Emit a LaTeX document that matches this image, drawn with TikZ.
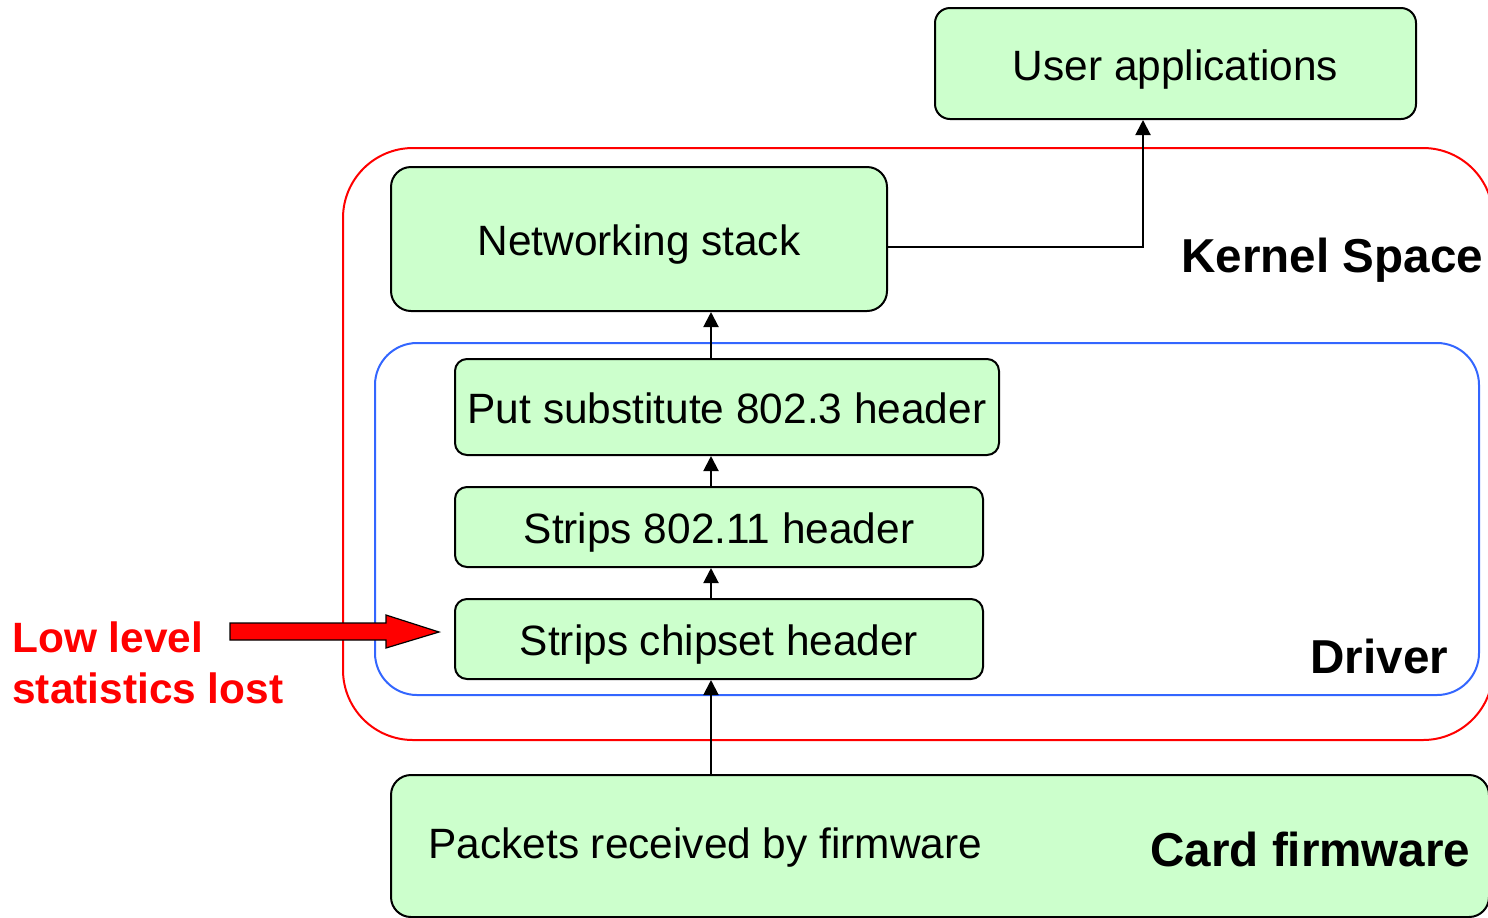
\documentclass[tikz,border=0pt]{standalone}
\usepackage{fontspec}
\setmainfont{Liberation Sans}
\usetikzlibrary{arrows.meta}
\definecolor{boxgreen}{HTML}{CCFFCC}
\definecolor{driverblue}{HTML}{3366FF}
\begin{document}
\begin{tikzpicture}[x=0.5pt,y=-0.5pt,
  box/.style={draw=black, line width=1pt, fill=boxgreen, rounded corners=6pt,
    inner sep=0pt, text height=16.5pt, text depth=0pt,
    font=\fontsize{21.2}{25}\selectfont},
  flow/.style={draw=black, line width=1pt, -{Triangle[length=7.5pt,width=7.5pt]}},
  zone/.style={line width=1pt},
  title/.style={font=\fontsize{23.8}{28}\selectfont\bfseries, inner sep=0pt},
  plain/.style={font=\fontsize{21.2}{25}\selectfont, inner sep=0pt},
  warn/.style={font=\fontsize{21.2}{25}\selectfont\bfseries, text=red, inner sep=0pt}
]
\path[use as bounding box] (0,0) rectangle (1488,917);
\clip (0,0) rectangle (1488,917);

% kernel and driver regions
\draw[zone, red, rounded corners=35pt] (343,148) rectangle (1493,740);
\draw[zone, driverblue, rounded corners=21pt] (375,343) rectangle (1479,695);

% processing steps
\node[box, rounded corners=7.5pt, minimum width=240.5pt, minimum height=55.5pt] (user) at (1175.5,63.5) {User applications};
\node[box, rounded corners=10pt, minimum width=248pt, minimum height=72pt] (net) at (639,239) {Networking stack};
\node[box, text height=16pt, minimum width=272pt, minimum height=48pt] (put) at (727,407) {Put substitute 802.3 header};
\node[box, minimum width=264pt, minimum height=40pt] (s11) at (719,527) {Strips 802.11 header};
\node[box, minimum width=264pt, minimum height=40pt] (chip) at (719,639) {Strips chipset header};
\node[box, rounded corners=10pt, minimum width=549pt, minimum height=71pt] (fw) at (940,846) {};

% labels
\node[plain, anchor=base west] (fwtext) at (428,858) {Packets received by firmware};
\node[title, anchor=base west] (fwlabel) at (1150,866) {Card firmware};
\node[title, anchor=base west] (kernel) at (1181,272) {Kernel Space};
\node[title, anchor=base west] (driver) at (1310,673) {Driver};
\node[warn, anchor=base west] (low1) at (12,652) {Low level};
\node[warn, anchor=base west] (low2) at (12,703) {statistics lost};

% data path
\coordinate (spine) at (711,0);
\coordinate (upline) at (1143,0);
\draw[flow] (spine |- fw.north) -- (spine |- chip.south);
\draw[flow] (spine |- chip.north) -- (spine |- s11.south);
\draw[flow] (spine |- s11.north) -- (spine |- put.south);
\draw[flow] (spine |- put.north) -- (spine |- net.south);
\draw[flow] ([yshift=-4pt]net.east) -| (upline |- user.south);

% block arrow pointing at the chipset step
\coordinate (tip) at ([xshift=-7.5pt,yshift=3.5pt]chip.west);
\filldraw[fill=red, draw=black, line width=0.6pt]
  (tip) -- ++(-53,-17) -- ++(0,8) -- ++(-156,0) -- ++(0,17)
  -- ++(156,0) -- ++(0,8) -- cycle;
\end{tikzpicture}
\end{document}
